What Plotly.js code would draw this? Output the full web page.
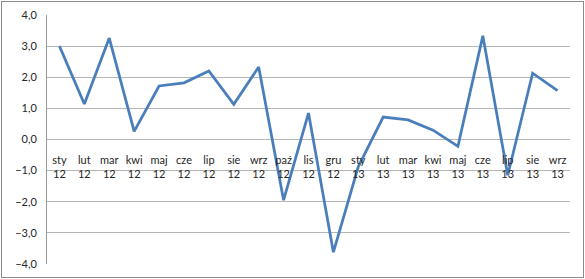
<!DOCTYPE html>
<html>
<head>
<meta charset="utf-8">
<script src="https://cdn.plot.ly/plotly-3.0.1.min.js"></script>
<style>
  html, body { margin: 0; padding: 0; background: #ffffff; }
  #frame { position: absolute; left: 1px; top: 1px; width: 581px; height: 275px; border: 1px solid #8c8c8c; background: #ffffff; }
  #chart { width: 581px; height: 275px; }
</style>
</head>
<body>
<div id="frame"><div id="chart"></div></div>
<script>
const months = ['sty','lut','mar','kwi','maj','cze','lip','sie','wrz','paź','lis','gru',
                'sty','lut','mar','kwi','maj','cze','lip','sie','wrz'];
const years  = ['12','12','12','12','12','12','12','12','12','12','12','12',
                '13','13','13','13','13','13','13','13','13'];
const values = [3.0, 1.14, 3.26, 0.26, 1.72, 1.82, 2.2, 1.13, 2.33, -1.95, 0.85, -3.62,
                -0.87, 0.72, 0.63, 0.3, -0.22, 3.33, -1.15, 2.13, 1.57];
const yTicks = [-4, -3, -2, -1, 0, 1, 2, 3, 4];

const idx = months.map((m, i) => i);
const tickText = months.map((m, i) => m + '<br>' + years[i]);

const trace = {
  x: idx,
  y: values,
  type: 'scatter',
  mode: 'lines',
  line: { color: '#4a7ebb', width: 2.75 },
  hoverinfo: 'skip'
};

const font = { family: 'Lato, "Open Sans", sans-serif', size: 11, color: '#262626' };

const layout = {
  width: 581,
  height: 275,
  margin: { l: 45, r: 13, t: 13, b: 13 },
  paper_bgcolor: '#ffffff',
  plot_bgcolor: '#ffffff',
  showlegend: false,
  separators: ', ',
  font: font,
  xaxis: {
    range: [-0.5, months.length - 0.5],
    tickmode: 'array',
    tickvals: idx,
    ticktext: tickText,
    showgrid: false,
    zeroline: false,
    showline: false,
    anchor: 'free',
    position: 0.5,
    ticks: 'outside',
    ticklen: 10,
    tickcolor: 'rgba(0,0,0,0)',
    tickfont: font,
    fixedrange: true
  },
  yaxis: {
    range: [-4, 4],
    tickmode: 'array',
    tickvals: yTicks,
    tickformat: '.1f',
    showgrid: true,
    gridcolor: '#b5b5b5',
    gridwidth: 1,
    zeroline: true,
    zerolinecolor: '#b5b5b5',
    zerolinewidth: 1,
    showline: true,
    linecolor: '#9a9a9a',
    linewidth: 1,
    ticks: 'outside',
    ticklen: 7,
    tickcolor: 'rgba(0,0,0,0)',
    tickfont: font,
    fixedrange: true
  }
};

Plotly.newPlot('chart', [trace], layout, { staticPlot: true, displayModeBar: false });
</script>
</body>
</html>
